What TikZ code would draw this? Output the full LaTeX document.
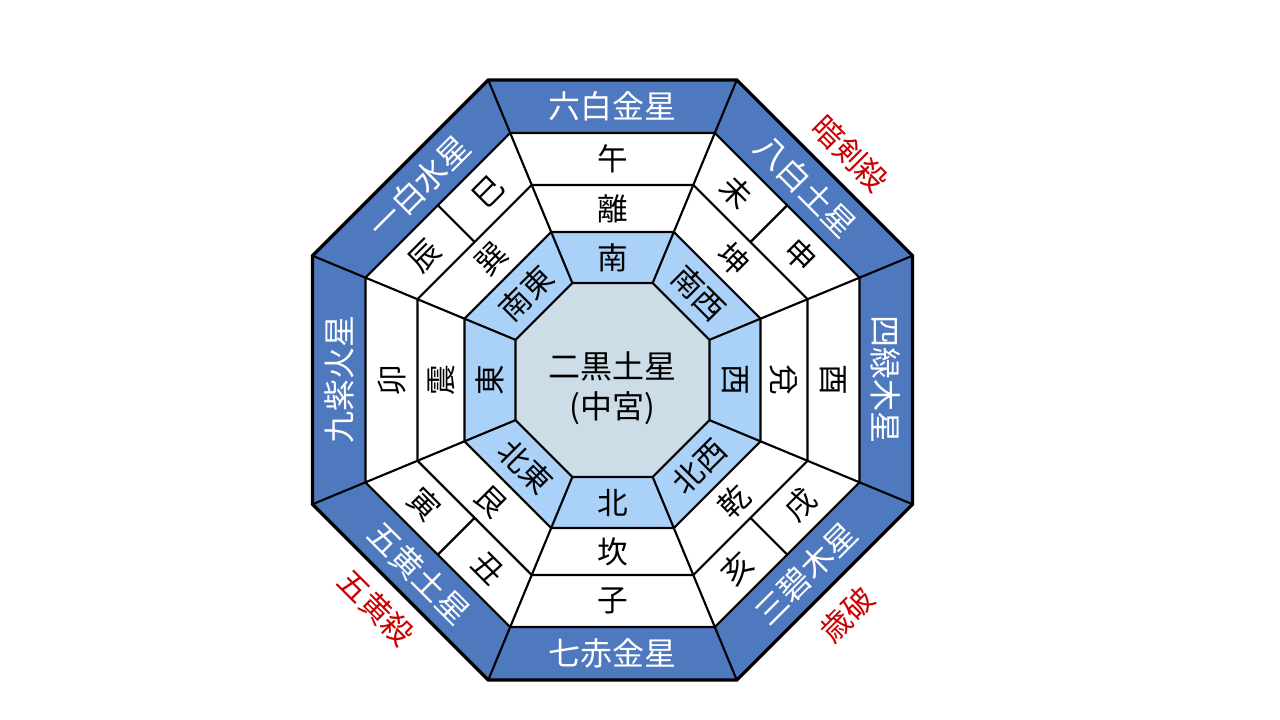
\documentclass[tikz,border=0pt]{standalone}
\usepackage{fontspec}
\setmainfont{Noto Sans CJK JP}
\usetikzlibrary{calc}
\definecolor{band}{HTML}{4E79BE}
\definecolor{lband}{HTML}{AAD1F8}
\definecolor{core}{HTML}{CDDDE7}
\definecolor{redt}{HTML}{CC0000}
\begin{document}
\begin{tikzpicture}[x=0.75pt,y=0.75pt,line join=miter,
  thin line/.style={line width=1.6pt},
  thick line/.style={line width=2.4pt},
  bandtext/.style={text=white,font=\fontsize{24}{28}\selectfont,inner sep=0pt},
  celltext/.style={text=black,font=\fontsize{23}{28}\selectfont,inner sep=0pt},
  redtext/.style={text=redt,font=\fontsize{23}{28}\selectfont,inner sep=0pt}]
\useasboundingbox (0,0) rectangle (1280,720);
\coordinate (O) at (612.5,340);
% octagon corners for each ring
\foreach \n/\a in {A/300,B/247,M/195,D/148,E/97}{
  \foreach \k in {0,...,7}{
    \coordinate (\n\k) at ($(O)+({22.5+45*\k}:{\a/0.92388})$);
  }
}
% divider points in diagonal cells
\foreach \k/\ang in {1/45,3/135,5/225,7/315}{
  \coordinate (P\k) at ($(O)+(\ang:247)$);
  \coordinate (Q\k) at ($(O)+(\ang:195)$);
}
% fills
\fill[band] (A0)--(A1)--(A2)--(A3)--(A4)--(A5)--(A6)--(A7)--cycle;
\fill[white] (B0)--(B1)--(B2)--(B3)--(B4)--(B5)--(B6)--(B7)--cycle;
\fill[lband] (D0)--(D1)--(D2)--(D3)--(D4)--(D5)--(D6)--(D7)--cycle;
\fill[core] (E0)--(E1)--(E2)--(E3)--(E4)--(E5)--(E6)--(E7)--cycle;
% lines
\foreach \k in {0,...,7}{\draw[thin line] (A\k)--(E\k);}
\foreach \n in {B,M,D,E}{
  \draw[thin line] (\n0)--(\n1)--(\n2)--(\n3)--(\n4)--(\n5)--(\n6)--(\n7)--cycle;
}
\foreach \k in {1,3,5,7}{\draw[thin line] (P\k)--(Q\k);}
\draw[thick line] (A0)--(A1)--(A2)--(A3)--(A4)--(A5)--(A6)--(A7)--cycle;
% band labels
\node[bandtext] (s6) at ($(O)+(90:273.5)$) {六白金星};
\node[bandtext,rotate=-45] (s8) at ($(O)+(45:273.5)$) {八白土星};
\node[bandtext,rotate=-90] (s4) at ($(O)+(0:273.5)$) {四緑木星};
\node[bandtext,rotate=45] (s3) at ($(O)+(-45:273.5)$) {三碧木星};
\node[bandtext] (s7) at ($(O)+(-90:273.5)$) {七赤金星};
\node[bandtext,rotate=-45] (s5) at ($(O)+(-135:273.5)$) {五黄土星};
\node[bandtext,rotate=90] (s9) at ($(O)+(180:273.5)$) {九紫火星};
\node[bandtext,rotate=45] (s1) at ($(O)+(135:273.5)$) {一白水星};
% top
\node[celltext] (uma) at ($(O)+(90:221)$) {午};
\node[celltext] (ri) at ($(O)+(90:171.5)$) {離};
\node[celltext] (minami) at ($(O)+(90:122.5)$) {南};
% upper right
\node[celltext,rotate=-45] (hitsuji) at ($(O)+(45:221)+(135:45)$) {未};
\node[celltext,rotate=-45] (saru) at ($(O)+(45:221)+(135:-45)$) {申};
\node[celltext,rotate=-45] (kon) at ($(O)+(45:171.5)$) {坤};
\node[celltext,rotate=-45] (nansei) at ($(O)+(45:122.5)$) {南西};
% right
\node[celltext,rotate=-90] (tori) at ($(O)+(0:221)$) {酉};
\node[celltext,rotate=-90] (da) at ($(O)+(0:171.5)$) {兌};
\node[celltext,rotate=-90] (nishi) at ($(O)+(0:122.5)$) {西};
% lower right
\node[celltext,rotate=45] (inu) at ($(O)+(-45:221)+(45:45)$) {戌};
\node[celltext,rotate=45] (i) at ($(O)+(-45:221)+(45:-45)$) {亥};
\node[celltext,rotate=45] (ken) at ($(O)+(-45:171.5)$) {乾};
\node[celltext,rotate=45] (hokusei) at ($(O)+(-45:122.5)$) {北西};
% bottom
\node[celltext] (ne) at ($(O)+(-90:221)$) {子};
\node[celltext] (kan) at ($(O)+(-90:171.5)$) {坎};
\node[celltext] (kita) at ($(O)+(-90:122.5)$) {北};
% lower left
\node[celltext,rotate=-45] (ushi) at ($(O)+(-135:221)+(-45:45)$) {丑};
\node[celltext,rotate=-45] (tora) at ($(O)+(-135:221)+(-45:-45)$) {寅};
\node[celltext,rotate=-45] (gon) at ($(O)+(-135:171.5)$) {艮};
\node[celltext,rotate=-45] (hokuto) at ($(O)+(-135:122.5)$) {北東};
% left
\node[celltext,rotate=90] (u) at ($(O)+(180:221)$) {卯};
\node[celltext,rotate=90] (shin) at ($(O)+(180:171.5)$) {震};
\node[celltext,rotate=90] (higashi) at ($(O)+(180:122.5)$) {東};
% upper left
\node[celltext,rotate=45] (tatsu) at ($(O)+(135:221)+(225:45)$) {辰};
\node[celltext,rotate=45] (mi) at ($(O)+(135:221)+(225:-45)$) {巳};
\node[celltext,rotate=45] (son) at ($(O)+(135:171.5)$) {巽};
\node[celltext,rotate=45] (nanto) at ($(O)+(135:122.5)$) {南東};
% center
\node[text=black,font=\fontsize{24}{30}\selectfont,align=center,inner sep=0pt] (center) at (612.5,332) {二黒土星\\(中宮)};
% red labels
\node[redtext,rotate=-45] (anken) at ($(O)+(45:328)+(135:-8)$) {暗剣殺};
\node[redtext,rotate=45] (saiha) at ($(O)+(-45:332)$) {歳破};
\node[redtext,rotate=-45] (goou) at ($(O)+(-135:328)+(-45:-6)$) {五黄殺};
\end{tikzpicture}
\end{document}
